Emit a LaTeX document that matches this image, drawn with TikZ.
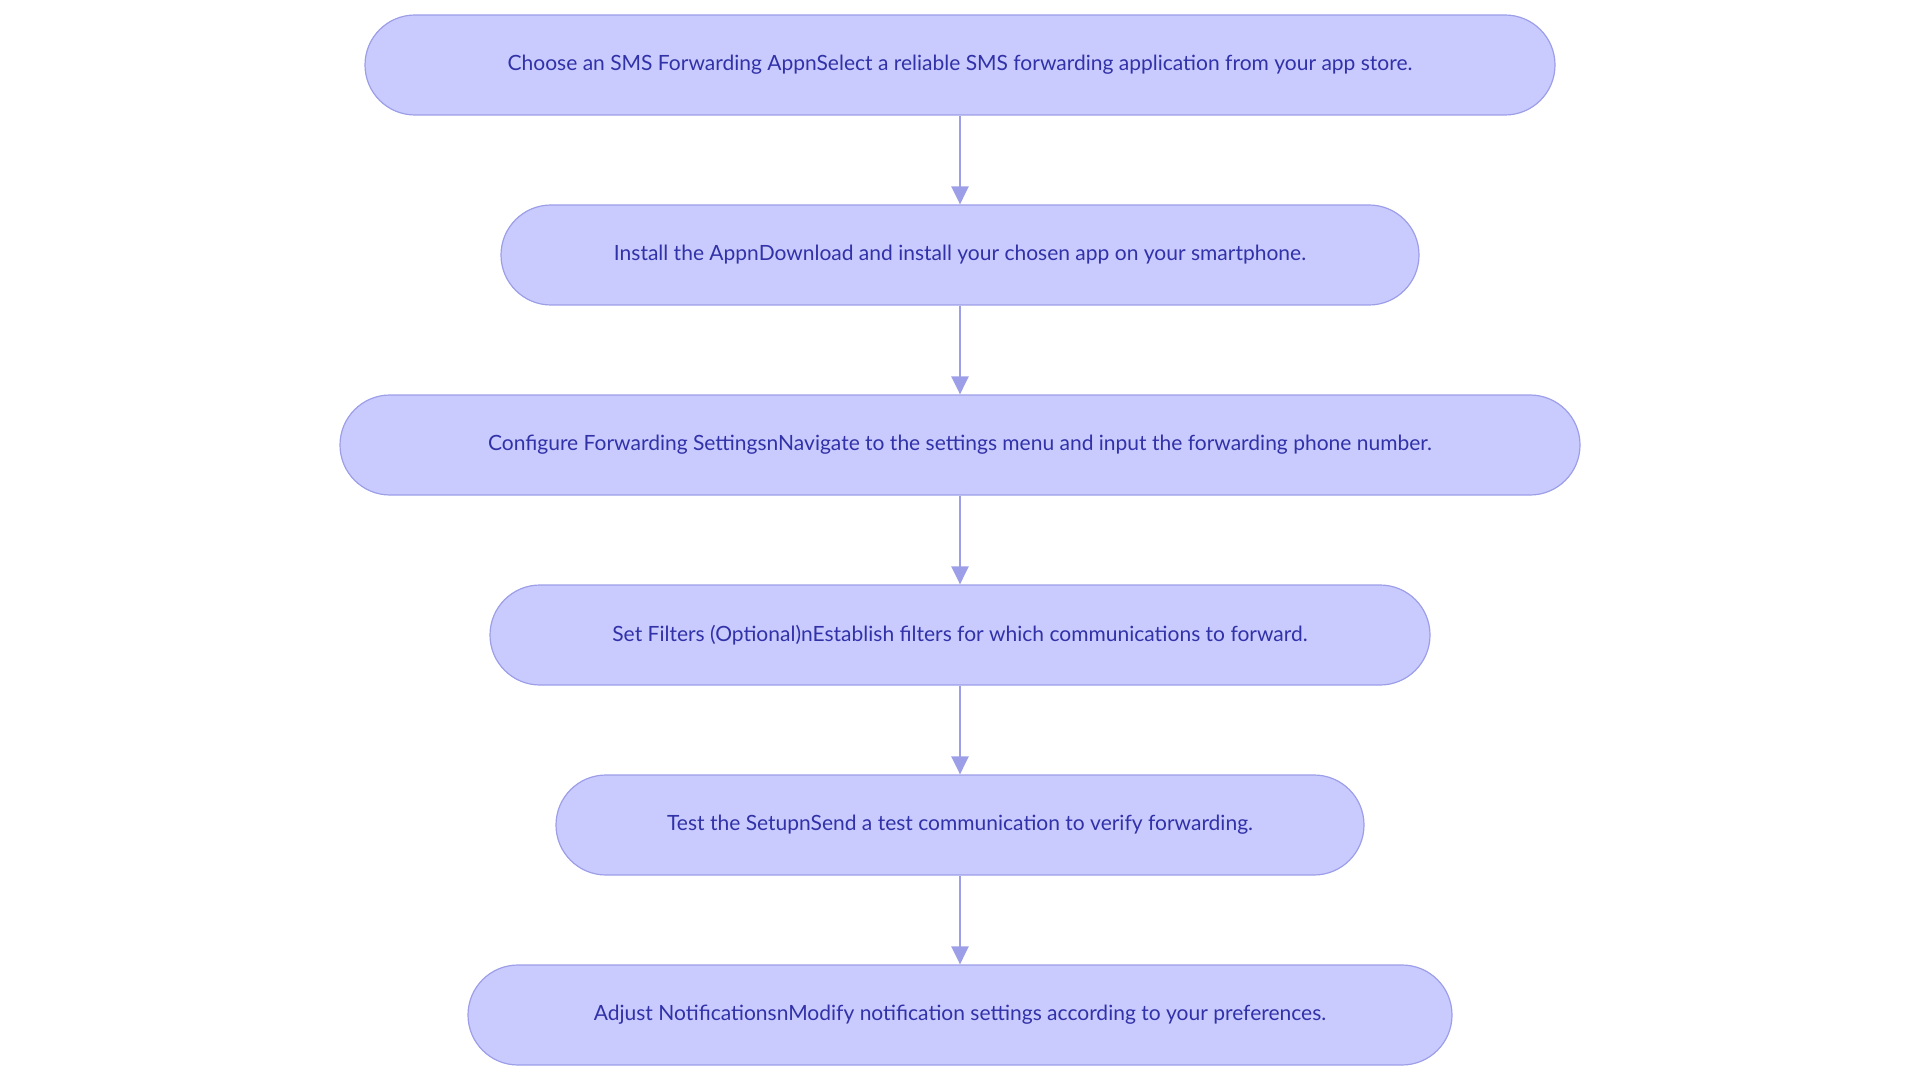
\documentclass[tikz,border=0pt]{standalone}
\usepackage{fontspec}
\setmainfont{Lato}
\usetikzlibrary{arrows.meta}
\definecolor{boxfill}{HTML}{C9CBFE}
\definecolor{boxline}{HTML}{9C9EE8}
\definecolor{txt}{HTML}{3131A8}
\begin{document}
\begin{tikzpicture}[x=1pt,y=-1pt,
 box/.style={draw=boxline,line width=1.2pt,fill=boxfill,rounded corners=50pt,minimum height=100pt,inner sep=0pt,text=txt,font=\fontsize{21}{24}\selectfont},
 arr/.style={draw=boxline,line width=2.5pt,-{Triangle[length=18pt,width=17pt]}}]
\useasboundingbox (0,0) rectangle (1920,1083);
\node[box,minimum width=1190pt] (a) at (960,65) {Choose an SMS Forwarding AppnSelect a reliable SMS forwarding application from your app store.};
\node[box,minimum width=918pt] (b) at (960,255) {Install the AppnDownload and install your chosen app on your smartphone.};
\node[box,minimum width=1240pt] (c) at (960,445) {Configure Forwarding SettingsnNavigate to the settings menu and input the forwarding phone number.};
\node[box,minimum width=940pt] (d) at (960,635) {Set Filters (Optional)nEstablish filters for which communications to forward.};
\node[box,minimum width=808pt] (e) at (960,825) {Test the SetupnSend a test communication to verify forwarding.};
\node[box,minimum width=984pt] (f) at (960,1015) {Adjust NotificationsnModify notification settings according to your preferences.};
\draw[arr] (a) -- (b);
\draw[arr] (b) -- (c);
\draw[arr] (c) -- (d);
\draw[arr] (d) -- (e);
\draw[arr] (e) -- (f);
\end{tikzpicture}
\end{document}
